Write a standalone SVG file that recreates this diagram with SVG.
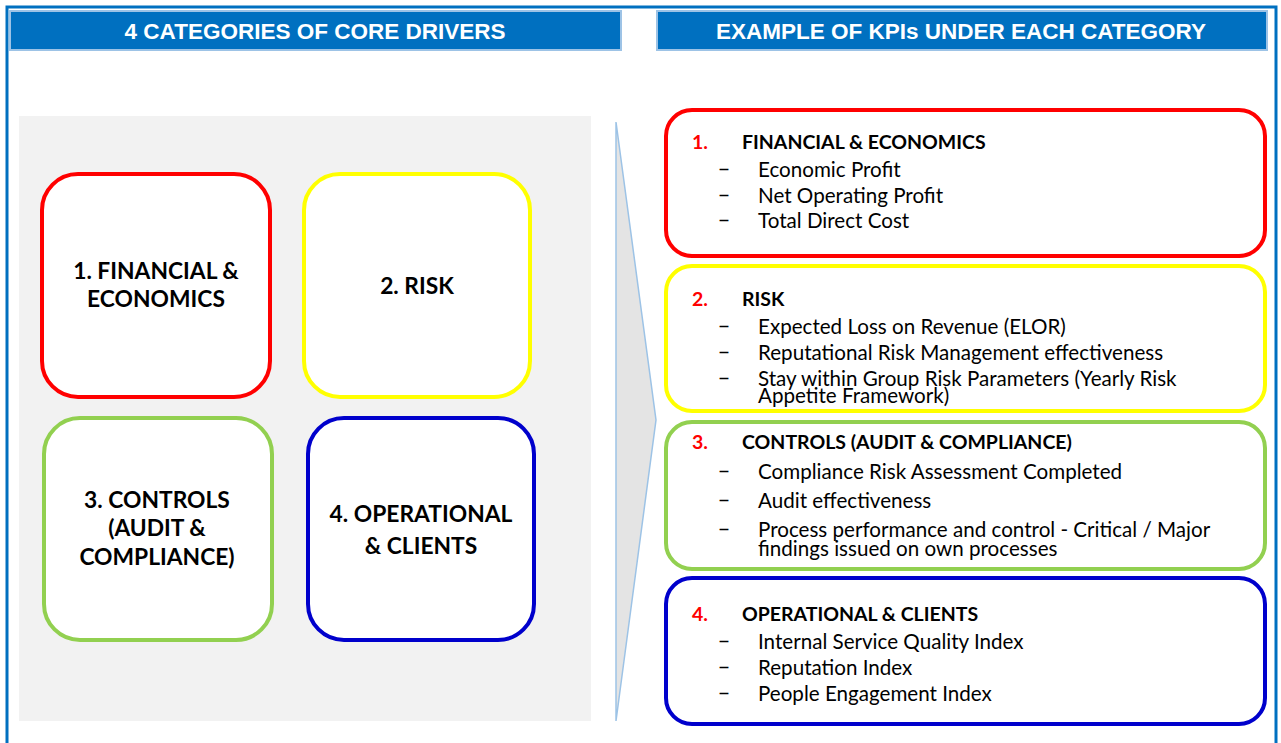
<svg xmlns="http://www.w3.org/2000/svg" width="1281" height="743" viewBox="0 0 1281 743">
<style>
.hdr{fill:#0070c0;stroke:#9dc3e6;stroke-width:2}
.hdrt{font-family:"Liberation Sans",Arial,sans-serif;font-weight:bold;font-size:22.5px;fill:#fff;text-anchor:middle}
.box{fill:#fff;stroke-width:4}
.red{stroke:#ff0000}.yel{stroke:#ffff00}.grn{stroke:#92d050}.blu{stroke:#0000cc}
.lt{font-family:Lato,"Noto Sans",sans-serif;font-weight:bold;font-size:22.8px;fill:#000;text-anchor:middle}
.h{font-family:Lato,"Noto Sans",sans-serif;font-weight:bold;font-size:19.5px;fill:#000}
.n{font-family:Lato,"Noto Sans",sans-serif;font-weight:bold;font-size:19.5px;fill:#ff0000}
.i{font-family:Lato,"Noto Sans",sans-serif;font-size:20.6px;fill:#000}
</style>
<rect x="0" y="0" width="1281" height="743" fill="#fff"/>
<rect x="7" y="7" width="1269" height="745" fill="none" stroke="#0070c0" stroke-width="3"/>
<g id="header-left">
<rect class="hdr" x="10" y="11" width="611" height="39"/>
<text class="hdrt" x="315" y="39">4 CATEGORIES OF CORE DRIVERS</text>
</g>
<g id="header-right">
<rect class="hdr" x="657" y="11" width="610" height="39"/>
<text class="hdrt" x="961" y="39">EXAMPLE OF KPIs UNDER EACH CATEGORY</text>
</g>
<rect id="panel" x="19" y="116" width="572" height="605" fill="#f2f2f2"/>
<g id="cat1">
<rect class="box red" x="42" y="174" width="228" height="223" rx="36"/>
<text class="lt" x="156" y="279">1. FINANCIAL &amp;</text>
<text class="lt" x="156" y="307">ECONOMICS</text>
</g>
<g id="cat2">
<rect class="box yel" x="304" y="174" width="226" height="223" rx="36"/>
<text class="lt" x="417" y="294">2. RISK</text>
</g>
<g id="cat3">
<rect class="box grn" x="44" y="418" width="228" height="222" rx="36"/>
<text class="lt" x="157" y="508">3. CONTROLS</text>
<text class="lt" x="157" y="536">(AUDIT &amp;</text>
<text class="lt" x="157" y="565">COMPLIANCE)</text>
</g>
<g id="cat4">
<rect class="box blu" x="308" y="418" width="226" height="222" rx="36"/>
<text class="lt" x="421" y="522">4. OPERATIONAL</text>
<text class="lt" x="421" y="554">&amp; CLIENTS</text>
</g>
<g id="connectors">
<polygon points="616,122 656,420 616,721" fill="#e4e4e4" stroke="#9dc3e6" stroke-width="1.5"/>
</g>
<g id="kpi1">
<rect class="box red" x="666" y="110" width="599" height="146" rx="26"/>
<text class="n" x="692" y="149">1.</text>
<text class="h" x="742" y="149">FINANCIAL &amp; ECONOMICS</text>
<text class="i" x="718" y="177">−</text><text class="i" x="758" y="177">Economic Profit</text>
<text class="i" x="718" y="203">−</text><text class="i" x="758" y="203">Net Operating Profit</text>
<text class="i" x="718" y="228">−</text><text class="i" x="758" y="228">Total Direct Cost</text>
</g>
<g id="kpi2">
<rect class="box yel" x="666" y="266" width="599" height="145" rx="26"/>
<text class="n" x="692" y="306">2.</text>
<text class="h" x="742" y="306">RISK</text>
<text class="i" x="718" y="334">−</text><text class="i" x="758" y="334">Expected Loss on Revenue (ELOR)</text>
<text class="i" x="718" y="360">−</text><text class="i" x="758" y="360">Reputational Risk Management effectiveness</text>
<text class="i" x="718" y="386">−</text><text class="i" x="758" y="386">Stay within Group Risk Parameters (Yearly Risk</text>
<text class="i" x="758" y="403">Appetite Framework)</text>
</g>
<g id="kpi3">
<rect class="box grn" x="666" y="422" width="599" height="147" rx="26"/>
<text class="n" x="692" y="449">3.</text>
<text class="h" x="742" y="449">CONTROLS (AUDIT &amp; COMPLIANCE)</text>
<text class="i" x="718" y="479">−</text><text class="i" x="758" y="479">Compliance Risk Assessment Completed</text>
<text class="i" x="718" y="508">−</text><text class="i" x="758" y="508">Audit effectiveness</text>
<text class="i" x="718" y="537">−</text><text class="i" x="758" y="537">Process performance and control - Critical / Major</text>
<text class="i" x="758" y="556">findings issued on own processes</text>
</g>
<g id="kpi4">
<rect class="box blu" x="666" y="578" width="599" height="146" rx="26"/>
<text class="n" x="692" y="621">4.</text>
<text class="h" x="742" y="621">OPERATIONAL &amp; CLIENTS</text>
<text class="i" x="718" y="649">−</text><text class="i" x="758" y="649">Internal Service Quality Index</text>
<text class="i" x="718" y="675">−</text><text class="i" x="758" y="675">Reputation Index</text>
<text class="i" x="718" y="701">−</text><text class="i" x="758" y="701">People Engagement Index</text>
</g>
</svg>
